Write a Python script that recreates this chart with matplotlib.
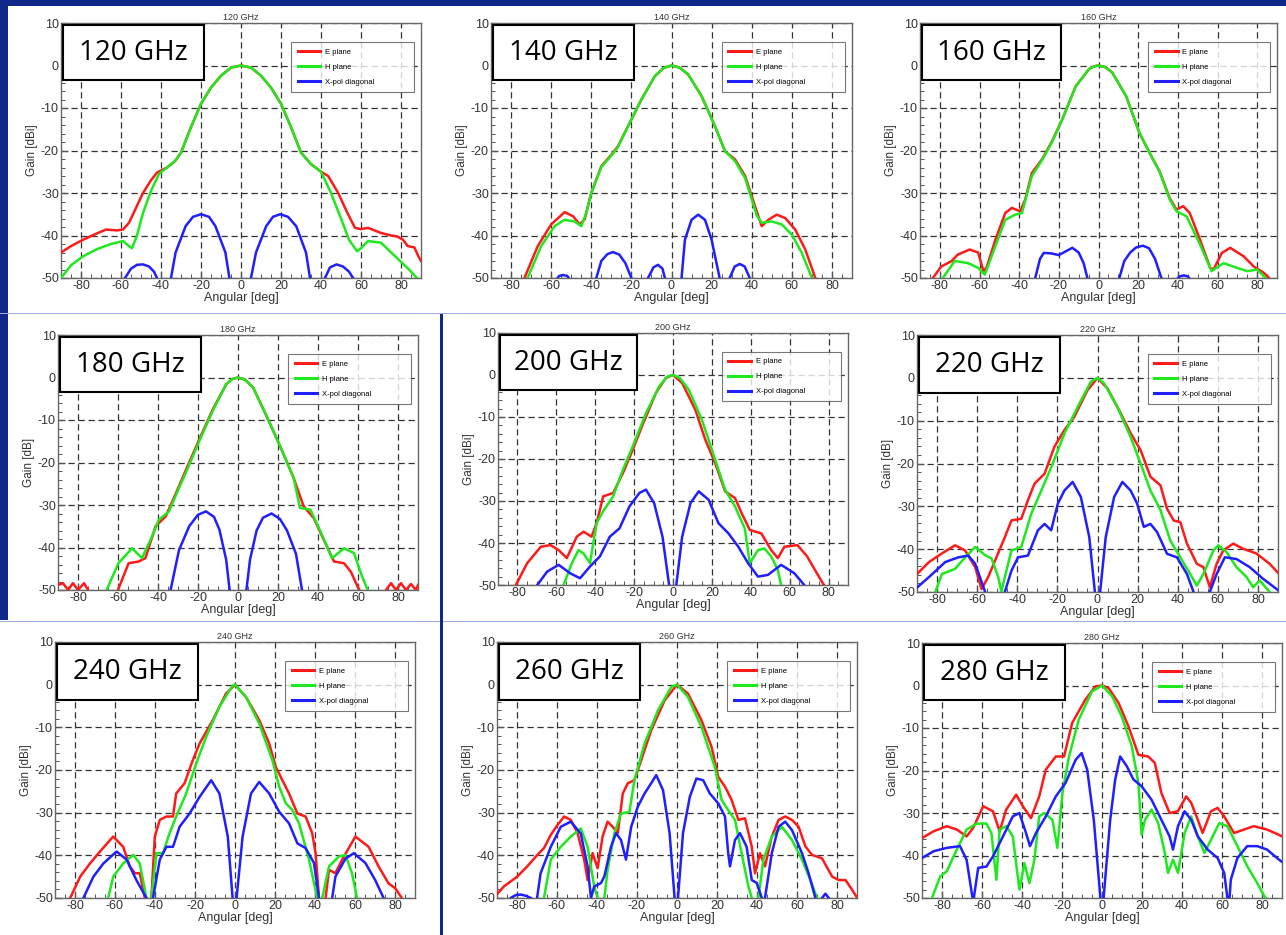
import matplotlib
matplotlib.use("Agg")
import matplotlib.pyplot as plt
import numpy as np
from matplotlib.patches import Rectangle

plt.rcParams["font.family"] = ["Liberation Sans", "DejaVu Sans"]
plt.rcParams["axes.unicode_minus"] = False

FIG_W, FIG_H = 1286, 935

freqs = [120, 140, 160, 180, 200, 220, 240, 260, 280]
ylabels = ["Gain [dBi]", "Gain [dBi]", "Gain [dBi]", "Gain [dB]", "Gain [dBi]",
           "Gain [dB]", "Gain [dBi]", "Gain [dBi]", "Gain [dBi]"]
legend_labels = ["E plane", "H plane", "X-pol diagonal"]

# (angle deg, gain dB) samples for each cut
e120 = [(-90, -44), (-85, -42.5), (-79, -41), (-72, -39.5), (-67.5, -38.6), (-62, -38.8), (-59, -38.6),
        (-56, -37), (-52, -33), (-49, -30), (-45, -27), (-42, -25.2), (-37, -24), (-33, -22.5), (-30, -20.5),
        (-25, -14.5), (-20, -9), (-15, -5.2), (-10, -2.4), (-5, -0.5), (0, 0), (5, -0.5), (10, -2.4),
        (15, -5.2), (20, -9), (25, -14.5), (30, -20.5), (35, -23.2), (40, -25), (43.6, -26), (48.6, -30),
        (53, -34.5), (57, -38.2), (60, -38.5), (63.5, -38.2), (70, -39.4), (75, -40), (78, -40.2),
        (81, -41), (83.4, -42.5), (86.7, -42.8), (88.7, -44.9), (90, -46)]
h120 = [(-90, -50), (-85, -47), (-79, -44.9), (-72, -43.2), (-65, -42), (-59, -41.3), (-56, -42.5),
        (-54.5, -43), (-52, -40), (-49, -34.7), (-45, -29.5), (-41, -25.5), (-37, -24), (-33, -22.5),
        (-30, -20.5), (-25, -14.5), (-20, -9), (-15, -5.2), (-10, -2.4), (-5, -0.5), (0, 0), (5, -0.5),
        (10, -2.4), (15, -5.2), (20, -9), (25, -14.5), (30, -20.5), (35, -23.2), (40, -25), (45, -30),
        (50, -36), (54, -41), (58, -43.7), (60, -43), (63.5, -41.3), (70, -41.7), (78, -45.3), (84, -48),
        (88, -50), (90, -51)]
x120 = [(-62, -60), (-58, -50), (-55, -47.8), (-52, -46.9), (-49, -46.8), (-46, -47.3), (-43.5, -48.5),
        (-42, -50), (-38, -60), (-35, -50), (-32.7, -44), (-27.7, -37.8), (-24, -35.6), (-20, -35),
        (-16, -35.6), (-12.8, -37.8), (-7.8, -44), (-5.8, -50), (-3, -60), (3, -60), (5, -50), (7.5, -44),
        (12.6, -37.8), (16, -35.6), (19.6, -35), (23.5, -35.6), (27.6, -37.8), (32.5, -44), (34.5, -50),
        (38, -60), (40.5, -60), (42, -50), (44.5, -47.5), (47.8, -46.8), (51, -47.3), (54, -48.5),
        (56, -50), (60, -60)]

e140 = [(-75, -55), (-73.3, -50), (-66.7, -42.5), (-60, -37.4), (-53.3, -34.5), (-49, -35.5),
        (-45.8, -37.4), (-43.3, -36.2), (-40, -30), (-35, -23.7), (-30, -21), (-26.7, -19), (-21.7, -14.3),
        (-15, -8), (-8.3, -2.5), (-4, -0.6), (0, 0), (4, -0.5), (8.3, -2.1), (15, -7.2), (21.7, -14.3),
        (26.7, -20.2), (31.7, -22.1), (36.7, -26), (43.3, -35.5), (45, -37.8), (48.3, -36.3),
        (52.5, -35.1), (56.7, -35.9), (61.7, -38.6), (66.7, -43.3), (71.7, -50), (74, -55)]
h140 = [(-73, -55), (-71.7, -50), (-65, -42.5), (-58.3, -37.8), (-53.3, -36.3), (-48.3, -36.7),
        (-45, -37.8), (-42.5, -34.7), (-40, -30), (-35, -23.9), (-30, -21.2), (-26.7, -19.2),
        (-21.7, -14.3), (-15, -8), (-8.3, -2.5), (-4, -0.6), (0, 0), (4, -0.5), (8.3, -2.1), (15, -7.2),
        (21.7, -14.3), (26.7, -20.2), (31.7, -22.5), (36.7, -26.5), (42.5, -35.3), (45, -37), (50, -36.7),
        (55, -37.4), (60, -39.8), (65, -44.1), (70, -50), (72, -55)]
x140 = [(-57.5, -50.5), (-56, -49.5), (-54, -49.3), (-52, -49.5), (-50.5, -50.5), (-45, -60),
        (-37.5, -50), (-35, -46), (-32, -44.4), (-29.2, -43.9), (-26, -44.5), (-23, -46.5), (-20, -50),
        (-16, -60), (-11.7, -50), (-9, -47.5), (-6.7, -46.9), (-4.5, -47.8), (-3.3, -50), (0, -60),
        (5, -50), (6.7, -41), (10, -36.3), (13.3, -35.1), (16.7, -36.3), (20, -41), (24, -50),
        (26.5, -60), (29, -50), (31.5, -47.3), (34, -46.7), (36.5, -47.3), (39, -50), (42, -60)]

e160 = [(-86, -55), (-83.5, -50), (-79.3, -47.3), (-74, -46), (-71, -44.5), (-65, -43.3), (-60.7, -44),
        (-58, -48.4), (-56.4, -47.5), (-52, -41), (-47, -34.7), (-43.7, -33.5), (-39.5, -34.3),
        (-37, -31.6), (-33.6, -25.3), (-28.5, -22.1), (-23.4, -17.8), (-18.3, -12.7), (-11.5, -4.9),
        (-4.7, -0.8), (-2.3, -0.2), (0, 0), (3.5, -0.4), (7, -1.7), (13.9, -7.2), (20.7, -15.9),
        (25.8, -20.6), (30.8, -24.9), (35.9, -31.2), (39.3, -33.9), (42.7, -33.1), (46, -34.7),
        (51.2, -41), (56.3, -47.6), (58, -48), (62.2, -44.1), (66.4, -42.9), (73.2, -44.9), (78.3, -47.3),
        (83.4, -48.8), (86, -50), (88, -55)]
h160 = [(-80, -55), (-78.5, -50), (-72.5, -46), (-65.8, -46.5), (-60.7, -47.6), (-57.3, -49.2),
        (-52, -42.5), (-47, -36.3), (-42, -35.1), (-38.6, -34.7), (-33.6, -26), (-28.5, -22.3),
        (-23.4, -18), (-18.3, -12.7), (-11.5, -4.9), (-4.7, -0.8), (-2.3, -0.2), (0, 0), (3.5, -0.4),
        (7, -1.7), (13.9, -7.2), (20.7, -15.9), (25.8, -20.6), (30.8, -25), (35.9, -31.5), (39.3, -34.3),
        (44.4, -35.5), (51.2, -42.1), (57, -48.4), (63, -46.5), (69.8, -47.6), (75, -48.4), (80, -48),
        (84.2, -50), (86, -55)]
x160 = [(-34, -60), (-31.9, -50), (-29.5, -45.5), (-27.6, -44.1), (-24, -44.2), (-20, -44.6),
        (-16, -43.6), (-13.2, -42.9), (-10, -44), (-7.5, -46.5), (-5.6, -50), (-4, -60), (8, -60),
        (10.5, -50), (13, -46), (16, -44), (19, -42.8), (22.4, -42.4), (25.5, -43), (28.5, -45.5),
        (31.7, -50), (35, -60), (39, -50.5), (41, -49.6), (43, -49.4), (45, -49.6), (46.5, -50.5)]

e180 = [(-90, -48.8), (-87.5, -48.4), (-85, -50), (-82.5, -48.4), (-80, -50), (-77, -48.4), (-75, -50),
        (-73, -55), (-62, -55), (-60, -50), (-54.7, -43.7), (-49.7, -43.3), (-46.3, -42.5), (-41.2, -35),
        (-36.2, -32.7), (-31, -27.2), (-26, -21.7), (-19.4, -14.6), (-12.6, -7.5), (-5.9, -1.6),
        (-3, -0.4), (0, 0), (3.5, -0.5), (7.6, -2.4), (14.3, -9.1), (21, -16.1), (27.8, -23.6),
        (32.8, -30.3), (37.9, -33.1), (42.9, -38.2), (48, -43.3), (53, -43.7), (56.4, -45.7), (60.6, -50),
        (62, -55), (72, -55), (74, -50), (76.5, -48.4), (79, -50), (81.5, -48.4), (84, -50), (86.5, -48.6),
        (89, -50), (90, -48.8)]
h180 = [(-67, -55), (-65.7, -50), (-59.8, -43.7), (-53, -40.2), (-48, -42.5), (-43, -37.4),
        (-39.6, -33.5), (-34.5, -31.5), (-29.5, -26), (-26, -22.3), (-19.4, -15), (-12.6, -7.8),
        (-5.9, -1.6), (-3, -0.4), (0, 0), (3.5, -0.5), (7.6, -2.4), (14.3, -9.1), (21, -16.1),
        (27.8, -23.6), (31, -30.7), (36.2, -31.1), (41.2, -36.2), (47, -42.5), (53, -40.2), (58, -41.3),
        (61.4, -46), (64.8, -50), (66, -55)]
x180 = [(-36, -60), (-33.7, -50), (-29.5, -40.6), (-24.4, -35), (-20, -32.3), (-16, -31.5),
        (-12, -32.8), (-9.3, -35.8), (-5.9, -42.9), (-4.2, -50), (-2, -60), (2, -60), (4.2, -50),
        (6, -42.9), (9.3, -36), (12.5, -33), (16.8, -32), (21, -33.3), (24.5, -36), (29, -41.5),
        (32, -50), (34, -60)]

e200 = [(-83, -55), (-80.8, -50), (-75, -44.8), (-68, -40.9), (-63, -40.5), (-58.8, -41.7),
        (-54.6, -43.6), (-49.5, -38.5), (-46, -37.3), (-41.9, -38.5), (-39.3, -35.3), (-35.9, -28.9),
        (-30.8, -28.1), (-25.8, -23.4), (-20.7, -17.8), (-15.6, -11.8), (-8.8, -4.3), (-3.7, -0.7),
        (0, 0), (4.7, -1.9), (11.5, -8.3), (16.6, -15.4), (21.7, -21), (26.8, -27.7), (31.9, -29.3),
        (35.3, -32.9), (39.5, -36.9), (45.4, -37.7), (50.5, -41.7), (53.9, -43.6), (57.3, -40.9),
        (64, -40.5), (69, -43.2), (74, -47.2), (77.6, -50), (80, -55)]
h200 = [(-58, -55), (-56.3, -50), (-52, -44.8), (-48.6, -41.7), (-46, -42.5), (-42.7, -44.8),
        (-39.3, -35.3), (-36, -32.5), (-30.8, -28.9), (-25.8, -22.6), (-20.7, -17), (-13.9, -9.1),
        (-7.1, -2.7), (-3, -0.4), (0, 0), (3.5, -0.7), (8.1, -3.5), (14.9, -10.7), (21.7, -20.2),
        (26.8, -27.3), (31.9, -31.3), (36.9, -36.5), (39.5, -44.8), (43.7, -41.7), (47, -41.3),
        (50.5, -43.2), (53.9, -46.4), (55.6, -50), (57, -55)]
x200 = [(-72, -55), (-69.8, -50), (-64.7, -46.8), (-58.8, -45.2), (-52.9, -47.2), (-47.8, -48.4),
        (-42.7, -45.6), (-37.6, -43.2), (-32.5, -38.5), (-27.5, -36.5), (-22.4, -31.3), (-17.3, -28.1),
        (-13.9, -27.3), (-9.7, -30.5), (-5.4, -38.5), (-2, -50), (0, -60), (1.7, -50), (4.7, -38.5),
        (9, -30.5), (13.2, -27.7), (18.3, -29.7), (23.4, -35.3), (28.5, -37.7), (33.6, -40.9),
        (38.6, -44.8), (43.7, -48), (48.8, -47.6), (55.6, -45.2), (62.4, -47.2), (67.5, -50), (70, -55)]

e220 = [(-90, -45.8), (-84, -43), (-77.6, -41), (-71, -39.1), (-66, -40.3), (-61, -44.2), (-57.8, -49.3),
        (-54.5, -46.5), (-51, -42.6), (-46.2, -37.2), (-42.9, -33.3), (-38, -32.9), (-34.7, -28.6),
        (-31.4, -24.7), (-26.4, -22.4), (-21.5, -16.1), (-16.5, -12.2), (-11.6, -9.1), (-5, -2.9),
        (0, 0), (5, -2.5), (11.6, -8.3), (16.5, -12.9), (21.5, -16.9), (26.4, -23.1), (31.4, -25.1),
        (34.7, -30.6), (38, -33.3), (41.3, -33.7), (44.6, -38.7), (49.5, -43.4), (52.8, -44.2),
        (56, -48.9), (59.4, -43.4), (62.7, -40.3), (67.7, -38.7), (72.6, -39.9), (79.2, -41),
        (85.8, -43.4), (90, -45.5)]
h220 = [(-83, -55), (-80.9, -50), (-77.6, -45.8), (-71, -44.6), (-66, -41.9), (-61, -39.5), (-56, -41.4),
        (-52.8, -42.2), (-49.5, -46.5), (-47.9, -50), (-46.2, -46.5), (-42.9, -40.3), (-38, -39.5),
        (-33, -31.7), (-28, -26.3), (-23, -20.8), (-16.5, -13), (-9.9, -6.8), (-3.3, -0.9), (0, 0),
        (3.3, -1.3), (9.9, -6.8), (16.5, -13.8), (21.5, -20), (26.4, -26.3), (31.4, -30.9), (36.3, -38),
        (41.3, -41.9), (46.2, -45.8), (49.5, -48.5), (52.8, -45.8), (57.8, -40.3), (60.2, -39.1),
        (64.4, -40.7), (69.3, -44.2), (74.3, -46.5), (77.6, -48.9), (80.9, -47.3), (85.8, -50),
        (88, -55)]
x220 = [(-90.8, -49.3), (-84, -46.5), (-75.9, -43), (-69.3, -41.9), (-64.4, -41.5), (-61, -43.4),
        (-56, -50), (-54, -60), (-48, -60), (-46.2, -50), (-42.9, -45), (-39.6, -41.9), (-34.7, -41.5),
        (-29.7, -35.6), (-26.4, -34.1), (-23.1, -35.6), (-19.8, -29.4), (-16.5, -26.3), (-12.4, -24.3),
        (-8.3, -27.8), (-4.1, -37.2), (-1.3, -50), (0, -60), (1.3, -50), (4.1, -37.2), (8.3, -27.8),
        (12.4, -24.3), (16.5, -26.3), (19.8, -29.4), (23.1, -34.8), (26.4, -34.1), (29.7, -36),
        (34.7, -41.1), (39.6, -41.9), (44.6, -45.8), (47.9, -50), (50, -60), (54, -60), (56, -50),
        (59.4, -45.8), (63.5, -41.9), (69.3, -42.3), (75.9, -44.2), (82.5, -46.9), (89, -49.2),
        (91, -50)]

e240 = [(-85, -55), (-82.4, -50), (-77.4, -45), (-72.5, -41.9), (-67.5, -39.1), (-60.9, -35.6),
        (-55.9, -38), (-52.6, -42.6), (-50, -44.2), (-47.6, -44.2), (-45.1, -50), (-44, -60), (-42.5, -60),
        (-41.8, -50), (-40.1, -35.6), (-37.6, -31.7), (-34.3, -30.9), (-31, -30.9), (-29.4, -25.5),
        (-25.2, -23.1), (-21.1, -17.7), (-17.7, -13.8), (-11.1, -8.3), (-4.5, -2.1), (0, 0), (5.5, -2.9),
        (12.1, -8.3), (17.1, -13.8), (20.4, -19.3), (23.7, -22.4), (27, -25.5), (31.2, -30.2),
        (35.3, -30.9), (38.6, -34.8), (40.3, -39.5), (42, -50), (43.5, -60), (45.3, -50), (47, -43.4),
        (50.2, -44.2), (53.6, -41), (60.2, -35.6), (66.8, -38), (71.8, -42.6), (76.8, -46.6),
        (80.1, -47.7), (83.4, -50), (85, -55)]
h240 = [(-65, -55), (-63.4, -50), (-60.9, -45), (-55.9, -41.9), (-50.9, -39.9), (-47.6, -41.9),
        (-44.3, -50), (-43, -60), (-42, -60), (-41.8, -50), (-39.3, -39.5), (-36, -39.5), (-32.7, -34.8),
        (-29.4, -30.9), (-24.4, -25.5), (-19.4, -18.5), (-14.4, -12.2), (-7.8, -5.2), (-1.2, -0.2),
        (0, 0), (5.5, -2.9), (12.1, -9.1), (18.7, -17.7), (22.1, -23.9), (25.4, -27.8), (28.7, -29.4),
        (32, -32.5), (37, -41), (41.1, -50), (42.5, -60), (43.6, -50), (47, -42.6), (51.9, -40.3),
        (55.2, -39.9), (58.5, -44.2), (61, -50), (63, -55)]
x240 = [(-78, -55), (-75.8, -50), (-70.8, -45), (-65.8, -41.9), (-59.2, -39.1), (-54.2, -41),
        (-49.3, -45.8), (-44.3, -50), (-43, -60), (-42, -60), (-41, -50), (-37.6, -41), (-34.3, -38),
        (-31, -38), (-27.7, -33.3), (-22.7, -30.2), (-17.7, -26.3), (-11.9, -22.4), (-7.8, -25.5),
        (-3.6, -35.6), (-1.2, -50), (0, -60), (0.8, -50), (3.8, -35.6), (8, -25.5), (12.1, -22.8),
        (17.1, -25.5), (22.1, -29.8), (27, -32.5), (31.2, -37.2), (35.3, -38.3), (39.5, -41.8),
        (42, -50), (45, -60), (48.6, -50), (50.2, -45), (55.2, -40.8), (59.4, -39.5), (65.2, -41.8),
        (70.1, -45.8), (74.3, -50), (76, -55)]

e260 = [(-93, -55), (-91.6, -50), (-86.6, -47.3), (-79.9, -45), (-74.9, -42.6), (-69.8, -39.9),
        (-66.5, -38.3), (-63.1, -35.2), (-59.8, -32.9), (-56.4, -30.9), (-53.1, -31.7), (-49.7, -34.8),
        (-46.4, -41), (-44.7, -45.8), (-42.2, -39.5), (-39.7, -43), (-37.2, -35.6), (-34.7, -32.1),
        (-32.2, -33.3), (-29.6, -34.8), (-27.1, -25.5), (-24.6, -23.1), (-21.3, -22.4), (-17.9, -17.7),
        (-12.9, -10.7), (-6.2, -3.7), (0, 0), (5.5, -2.1), (12.2, -8.3), (17.3, -14.6), (20.6, -21.6),
        (24, -23.9), (27.3, -27), (30.7, -31.7), (34, -31.3), (37.4, -38), (39, -44.2), (41.5, -39.5),
        (44, -42.6), (47.4, -35.6), (50.8, -31.7), (54.1, -30.9), (57.5, -31.7), (60.8, -33.3),
        (64.2, -37.9), (67.5, -39.9), (72.5, -40.7), (77.6, -45), (80.9, -45.8), (84.3, -45.8),
        (87.6, -48.1), (90.1, -50)]
h260 = [(-68, -55), (-66.5, -50), (-63.1, -41), (-58.1, -38), (-53.1, -35.6), (-48.1, -33.7),
        (-44.7, -38), (-41.4, -47.3), (-39.7, -50), (-38, -60), (-36.3, -50), (-34.7, -43.4),
        (-31.3, -34.8), (-28, -30.2), (-23.8, -29.8), (-21.3, -22.4), (-16.2, -13.8), (-9.5, -6),
        (-2.8, -0.5), (0, 0), (5.5, -2.9), (12.2, -9.9), (18.9, -19.3), (22.3, -27), (25.6, -29.4),
        (29, -31.7), (32.3, -39.5), (35.7, -47.3), (37.4, -50), (39, -60), (40.7, -50), (43.2, -41),
        (47.4, -35.6), (52.4, -33.3), (57.5, -36.4), (62.5, -41), (66.7, -45.8), (70, -50), (72, -55)]
x260 = [(-85, -55), (-83.2, -50), (-80.5, -49.3), (-78, -49.2), (-75.5, -49.5), (-73, -50), (-71.5, -55),
        (-68.2, -44.2), (-63.1, -38), (-58.1, -33.3), (-53.1, -32.1), (-48.1, -34.9), (-44.7, -42.6),
        (-43, -50), (-41.4, -47.3), (-38, -46.5), (-36.3, -44.9), (-33, -38), (-30.5, -34.8),
        (-28, -36.4), (-25.5, -41), (-22.9, -33.3), (-19.6, -28.6), (-16.2, -25.5), (-12.9, -23.1),
        (-10.4, -21.2), (-7, -24.7), (-3.7, -34.8), (-1.2, -50), (0, -60), (0.5, -50), (3, -34.8),
        (6.4, -26.3), (9.7, -22), (13.1, -22.4), (16.4, -25.5), (20.6, -27.8), (24, -30.9),
        (25.6, -39.5), (26.5, -42.6), (29, -36.4), (31.5, -34.8), (34.8, -38), (37.4, -45.8),
        (39.9, -46.5), (42.4, -50), (43.2, -60), (44, -50), (47.4, -39.5), (50.8, -33.3), (54.1, -32.1),
        (57.5, -34.1), (62.5, -39.5), (65.8, -44.2), (69.2, -50), (71, -55), (72.5, -50), (74.2, -49),
        (75.9, -50), (78, -55)]

e280 = [(-90, -35.9), (-84.2, -34.3), (-77.6, -33.1), (-72.6, -33.9), (-67.7, -35.5), (-64.4, -33.5),
        (-59.4, -28.4), (-54.5, -29.6), (-51.2, -34.3), (-47.9, -29.2), (-42.9, -25.7), (-39.6, -28.4),
        (-35.5, -31.2), (-31.4, -26.1), (-28.1, -19.8), (-23.1, -16.7), (-19, -16.7), (-14.9, -8.8),
        (-8.3, -3.3), (-3.3, -0.2), (0, 0), (3.3, -0.6), (8.3, -4.1), (13.2, -9.6), (18.2, -16.3),
        (23.1, -16.7), (26.4, -18.2), (29.7, -25.3), (33.8, -30), (37.9, -29.6), (42.1, -26.1),
        (44.6, -27.6), (47.9, -31.6), (50.3, -34.7), (54.5, -29.6), (57.8, -28.8), (61.1, -30.8),
        (66, -34.7), (71, -33.9), (75.9, -33.1), (82.5, -33.9), (88.3, -35.1), (90, -35.5)]
h280 = [(-87, -55), (-85, -50), (-80.9, -44.9), (-77.6, -43.7), (-72.6, -38.6), (-67.7, -33.9),
        (-62.7, -32.5), (-57.8, -32.5), (-55.3, -34.7), (-52.8, -45.7), (-51.2, -33.9), (-47.9, -33.1),
        (-44.6, -35.5), (-41.3, -48), (-38.8, -41.8), (-36.3, -46.5), (-33.8, -41), (-31.4, -30.8),
        (-28.9, -30), (-24.8, -31.6), (-22.3, -38.2), (-19.8, -25.3), (-16.5, -16.7), (-11.6, -8),
        (-5, -1.4), (0, 0), (5, -2.5), (9.9, -7.3), (14.9, -14.3), (18.2, -23), (19.8, -35.1),
        (21.5, -31.6), (24.8, -29.2), (28.1, -32.4), (31.4, -39.4), (33, -44.1), (35.5, -41),
        (38, -44.1), (41.3, -34.7), (44.6, -30.8), (47.9, -35.5), (51.2, -39.4), (54.5, -36.3),
        (58.6, -32.4), (62.7, -33.1), (67.7, -37.8), (72.6, -42.5), (77.6, -46.5), (81.7, -50),
        (84, -55)]
x280 = [(-90, -40.6), (-84.2, -39), (-77.6, -38.2), (-71, -37.8), (-67.7, -41), (-64.4, -51),
        (-61.9, -42.9), (-57.8, -42.6), (-54.5, -40.2), (-49.5, -35.5), (-44.6, -30.8), (-41.3, -30),
        (-38, -34.7), (-36, -37.8), (-33, -34.7), (-28.1, -30.8), (-23.1, -26.1), (-18.2, -22.9),
        (-13.2, -17.5), (-10.2, -15.9), (-7.4, -19.8), (-4.1, -31.6), (-0.8, -50), (0, -60), (0.8, -50),
        (4.1, -31.6), (6.6, -22.1), (9.1, -16.7), (12.4, -19), (15.7, -22.1), (19.8, -23.7),
        (24.8, -26.9), (29.7, -31.6), (33.8, -35.5), (35.5, -38.6), (38, -33.1), (41.3, -29.6),
        (44.6, -31.6), (47.9, -35.5), (52.8, -38.6), (57.8, -40.6), (61.1, -44.1), (62.7, -50),
        (63.5, -52), (64.4, -45.7), (67.7, -40.6), (72.6, -37.8), (77.6, -37.8), (82.5, -38.6),
        (88.3, -40.9), (90, -41.5)]

e_cuts = [e120, e140, e160, e180, e200, e220, e240, e260, e280]
h_cuts = [h120, h140, h160, h180, h200, h220, h240, h260, h280]
x_cuts = [x120, x140, x160, x180, x200, x220, x240, x260, x280]

# axes boxes in pixels: left, top, right, bottom
boxes = [(61, 23, 421, 278), (491, 23, 852, 278), (920, 23, 1277, 278),
         (58, 335, 418, 590), (498, 333, 848, 585), (917, 335, 1278, 592),
         (55, 642, 415, 898), (497, 642, 857, 898), (922, 643, 1282, 898)]

SLIDE_BLUE = "#10288a"
LINE_COLORS = ["#ff1a1a", "#1ee81e", "#1f1fff"]


def px_rect(l, t, r, b):
    return [l / FIG_W, 1 - b / FIG_H, (r - l) / FIG_W, (b - t) / FIG_H]


def draw_panel(ax, freq, ylabel, cuts):
    for cut, color, label in zip(cuts, LINE_COLORS, legend_labels):
        deg, db = np.array(cut).T
        ax.plot(deg, db, color=color, lw=1.8, label=label, zorder=3, solid_joinstyle="round")

    ax.set_xlim(-90, 90)
    ax.set_ylim(-50, 10)
    ax.set_xticks(np.arange(-80, 81, 20))
    ax.set_yticks(np.arange(-50, 11, 10))
    ax.set_xticks(np.arange(-90, 91, 5), minor=True)
    ax.set_yticks(np.arange(-50, 11, 2), minor=True)
    ax.tick_params(which="both", direction="in", labelsize=9, pad=1.5, colors="#555555",
                   labelcolor="#333333")
    ax.tick_params(which="major", length=5, width=0.9)
    ax.tick_params(which="minor", length=3, width=0.7)
    ax.grid(True, which="major", color="#333333", linestyle=(0, (5, 3)), lw=0.9, zorder=1)
    for s in ax.spines.values():
        s.set_color("#666666")
        s.set_linewidth(1.0)

    ax.set_title(f"{freq} GHz", fontsize=6.5, pad=2, color="#333333")
    ax.set_xlabel("Angular [deg]", fontsize=9, labelpad=0, color="#333333")
    ax.set_ylabel(ylabel, fontsize=8.5, labelpad=2, color="#333333")

    leg = ax.legend(loc="upper left", bbox_to_anchor=(0.64, 0.925, 0.34, 0.0), mode="expand",
                    fontsize=5.5, frameon=True, fancybox=False, edgecolor="#555555",
                    handlelength=3.0, handletextpad=0.6, borderpad=0.8, labelspacing=1.0,
                    borderaxespad=0)
    leg.get_frame().set_linewidth(0.8)
    leg.set_zorder(4)
    for line in leg.get_lines():
        line.set_linewidth(2.2)

    ax.add_patch(Rectangle((0.006, 0.775), 0.39, 0.218, transform=ax.transAxes, facecolor="white",
                           edgecolor="black", lw=1.5, zorder=5, clip_on=False))
    ax.text(0.2, 0.882, f"{freq} GHz", transform=ax.transAxes, ha="center", va="center",
            fontsize=20, family="Open Sans", color="black", zorder=6)


fig = plt.figure(figsize=(FIG_W / 100, FIG_H / 100), dpi=100, facecolor="white")

# slide frame: top band, left strip and panel separators
fig.add_artist(Rectangle((0, 1 - 6 / FIG_H), 1, 6 / FIG_H, transform=fig.transFigure,
                         color=SLIDE_BLUE, lw=0))
fig.add_artist(Rectangle((0, 1 - 620 / FIG_H), 8 / FIG_W, 620 / FIG_H, transform=fig.transFigure,
                         color=SLIDE_BLUE, lw=0))
for y in (313, 621):
    fig.add_artist(Rectangle((0, 1 - (y + 1) / FIG_H), 1, 1.5 / FIG_H, transform=fig.transFigure,
                             color="#9aaadd", lw=0))
fig.add_artist(Rectangle((440 / FIG_W, 0), 3 / FIG_W, 1 - 314 / FIG_H, transform=fig.transFigure,
                         color=SLIDE_BLUE, lw=0))

for i, freq in enumerate(freqs):
    ax = fig.add_axes(px_rect(*boxes[i]))
    draw_panel(ax, freq, ylabels[i], [e_cuts[i], h_cuts[i], x_cuts[i]])

fig.savefig("out.png", dpi=100, facecolor="white")
